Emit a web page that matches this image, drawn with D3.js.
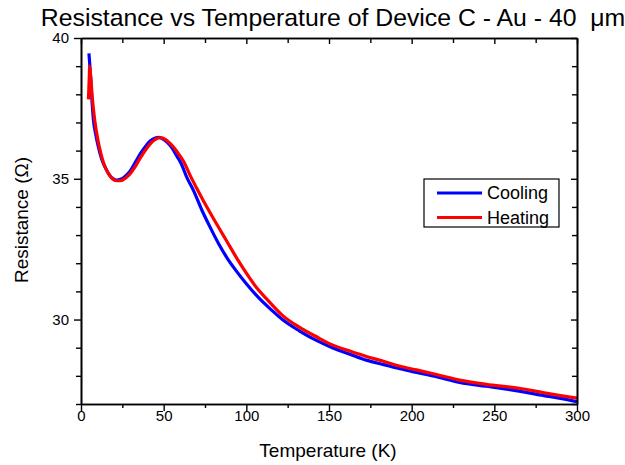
<!DOCTYPE html>
<html>
<head>
<meta charset="utf-8">
<script src="https://cdn.jsdelivr.net/npm/d3@7"></script>
<style>
  html, body { margin: 0; padding: 0; background: #fff; }
  svg { display: block; font-family: "Liberation Sans", Arial, sans-serif; }
</style>
</head>
<body>
<svg id="chart" width="625" height="465"></svg>
<script>
// Resistance of device C (Au, 40 µm) measured while cooling and heating
const coolingT = [4.8, 5.5, 6.5, 7.5, 9, 10.5, 12.5, 14.5, 17, 19.5, 21.5, 24, 27, 30, 33, 36, 39, 42, 45, 47, 49, 52, 55, 58, 59.5, 60.5, 64, 68, 73, 78, 83, 88, 94, 100, 108, 115, 122, 132, 143, 152, 163, 173, 183, 193, 203, 215, 229, 245, 265, 280, 290, 300];
const coolingR = [39.45, 38.9, 37.9, 37.1, 36.55, 36.13, 35.7, 35.42, 35.15, 35.0, 34.95, 34.98, 35.1, 35.3, 35.6, 35.9, 36.15, 36.35, 36.45, 36.47, 36.43, 36.3, 36.1, 35.8, 35.66, 35.55, 35.05, 34.59, 33.9, 33.29, 32.72, 32.22, 31.72, 31.27, 30.74, 30.35, 29.99, 29.6, 29.24, 29.0, 28.76, 28.55, 28.4, 28.25, 28.12, 27.97, 27.77, 27.63, 27.46, 27.3, 27.2, 27.08];

const heatingT = [4.5, 5.0, 5.2, 5.8, 6.8, 8.3, 10, 12, 14, 16.5, 19, 21.5, 24, 27, 30, 33, 36, 39, 42, 45, 48, 51, 54, 57, 60, 62, 66, 70, 74, 80, 84, 88, 94, 100, 106, 112, 122, 132, 143, 152, 163, 173, 183, 193, 203, 215, 229, 245, 265, 280, 290, 300];
const heatingR = [37.82, 38.6, 39.0, 38.7, 37.9, 37.08, 36.45, 35.9, 35.5, 35.2, 35.0, 34.93, 34.93, 35.03, 35.2, 35.45, 35.75, 36.02, 36.25, 36.4, 36.46, 36.4, 36.25, 36.05, 35.8, 35.62, 35.12, 34.66, 34.22, 33.6, 33.2, 32.8, 32.2, 31.65, 31.15, 30.75, 30.14, 29.73, 29.37, 29.1, 28.87, 28.68, 28.52, 28.34, 28.21, 28.05, 27.85, 27.7, 27.56, 27.4, 27.3, 27.21];

const xMajorTicks = [0, 50, 100, 150, 200, 250, 300];
const xMinorTicks = [25, 75, 125, 175, 225, 275];
const yMajorTicks = [30, 35, 40];
const yMinorTicks = [27, 28, 29, 31, 32, 33, 34, 36, 37, 38, 39];

const seriesNames = ["Cooling", "Heating"];
const seriesColors = ["#0000ff", "#ff0000"];

const titleText = "Resistance vs Temperature of Device C - Au - 40 \u00a0\u03bcm";
const xLabel = "Temperature (K)";
const yLabel = "Resistance (\u03a9)";

const svg = d3.select("#chart");
const plotLeft = 81, plotRight = 577, plotTop = 38, plotBottom = 404;

const x = d3.scaleLinear().domain([0, 300]).range([plotLeft, plotRight]);
const y = d3.scaleLinear().domain([27, 40]).range([plotBottom, plotTop]);

// Data lines
const series = [
  coolingT.map((t, i) => [t, coolingR[i]]),
  heatingT.map((t, i) => [t, heatingR[i]])
];
const line = d3.line().x(d => x(d[0])).y(d => y(d[1])).curve(d3.curveMonotoneX);

const plot = svg.append("g");
plot.append("defs").append("clipPath").attr("id", "clip")
  .append("rect").attr("x", plotLeft).attr("y", plotTop)
  .attr("width", plotRight - plotLeft).attr("height", plotBottom - plotTop);

series.forEach((s, i) => {
  plot.append("path")
    .datum(s)
    .attr("clip-path", "url(#clip)")
    .attr("fill", "none")
    .attr("stroke", seriesColors[i])
    .attr("stroke-width", 3.2)
    .attr("stroke-linejoin", "round")
    .attr("d", line);
});

// Axes: bottom & left outward ticks with labels, top & right inward ticks
function styleAxis(g) {
  g.selectAll(".domain").attr("stroke", "#000").attr("stroke-width", 1.6);
  g.selectAll(".tick line").attr("stroke", "#000").attr("stroke-width", 1.4);
  g.selectAll(".tick text").attr("fill", "#000").attr("font-size", "15px")
    .attr("font-family", "'Liberation Sans', Arial, sans-serif");
}

// bottom
svg.append("g").attr("transform", `translate(0,${plotBottom})`)
  .call(d3.axisBottom(x).tickValues(xMinorTicks).tickSize(4).tickFormat("").tickSizeOuter(0))
  .call(styleAxis);
svg.append("g").attr("transform", `translate(0,${plotBottom})`)
  .call(d3.axisBottom(x).tickValues(xMajorTicks).tickSize(7).tickPadding(-1).tickFormat(d3.format("d")).tickSizeOuter(0))
  .call(styleAxis);

// top
svg.append("g").attr("transform", `translate(0,${plotTop})`)
  .call(d3.axisTop(x).tickValues(xMinorTicks).tickSize(-5).tickFormat("").tickSizeOuter(0))
  .call(styleAxis);
svg.append("g").attr("transform", `translate(0,${plotTop})`)
  .call(d3.axisTop(x).tickValues(xMajorTicks).tickSize(-6).tickFormat("").tickSizeOuter(0))
  .call(styleAxis);

// left
svg.append("g").attr("transform", `translate(${plotLeft},0)`)
  .call(d3.axisLeft(y).tickValues(yMinorTicks).tickSize(5).tickFormat("").tickSizeOuter(0))
  .call(styleAxis);
svg.append("g").attr("transform", `translate(${plotLeft},0)`)
  .call(d3.axisLeft(y).tickValues(yMajorTicks).tickSize(7).tickPadding(5).tickFormat(d3.format("d")).tickSizeOuter(0))
  .call(styleAxis);

// right
svg.append("g").attr("transform", `translate(${plotRight},0)`)
  .call(d3.axisRight(y).tickValues(yMinorTicks).tickSize(-5).tickFormat("").tickSizeOuter(0))
  .call(styleAxis);
svg.append("g").attr("transform", `translate(${plotRight},0)`)
  .call(d3.axisRight(y).tickValues(yMajorTicks).tickSize(-6).tickFormat("").tickSizeOuter(0))
  .call(styleAxis);

// Title and axis labels
svg.append("text")
  .attr("x", 333).attr("y", 26)
  .attr("text-anchor", "middle")
  .attr("font-size", "24.8px")
  .attr("fill", "#000")
  .text(titleText);

svg.append("text")
  .attr("x", 328).attr("y", 457)
  .attr("text-anchor", "middle")
  .attr("font-size", "19px")
  .attr("fill", "#000")
  .text(xLabel);

svg.append("text")
  .attr("transform", `translate(28,220) rotate(-90)`)
  .attr("text-anchor", "middle")
  .attr("font-size", "19px")
  .attr("fill", "#000")
  .text(yLabel);

// Legend
const legend = svg.append("g");
legend.append("rect")
  .attr("x", 424).attr("y", 179).attr("width", 135).attr("height", 48)
  .attr("fill", "#fff").attr("stroke", "#000").attr("stroke-width", 1.2);
seriesNames.forEach((name, i) => {
  const ly = 193 + i * 24.5;
  legend.append("line")
    .attr("x1", 437).attr("x2", 482).attr("y1", ly).attr("y2", ly)
    .attr("stroke", seriesColors[i]).attr("stroke-width", 3);
  legend.append("text")
    .attr("x", 487).attr("y", ly + 6)
    .attr("font-size", "18px").attr("fill", "#000")
    .text(name);
});
</script>
</body>
</html>
